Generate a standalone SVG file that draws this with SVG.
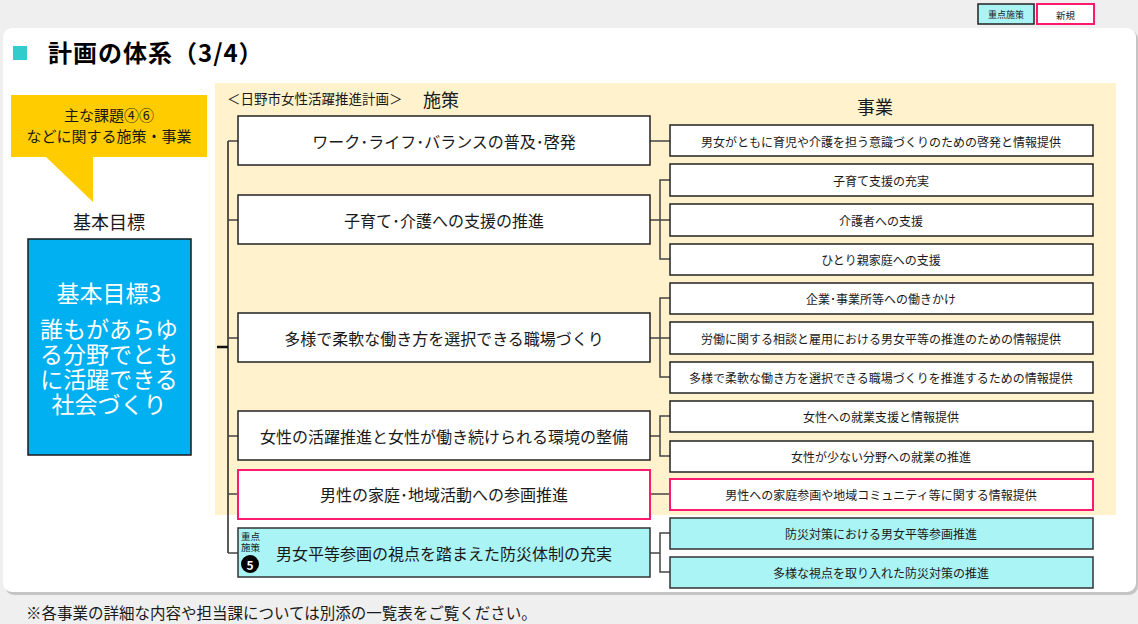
<svg xmlns="http://www.w3.org/2000/svg" width="1138" height="624" viewBox="0 0 1138 624">
<style>
text{font-family:"Meiryo UI","Noto Sans CJK JP","Noto Sans",sans-serif;fill:#1a1a1a}
.c{text-anchor:middle;dominant-baseline:central}
.pol{fill:#fff;stroke:#222;stroke-width:1.5}
.biz{fill:#fff;stroke:#222;stroke-width:1.5}
.cy{fill:#aaf4f6;stroke:#333;stroke-width:1.5}
.pk{fill:#fff;stroke:#ff1a70;stroke-width:2}
.pt{font-size:16px}
.bt{font-size:12px}
.ln{stroke:#444;stroke-width:1.5;fill:none}
</style>
<rect x="0" y="0" width="1138" height="624" fill="#efefef"/>
<rect x="5" y="30" width="1133" height="565" rx="9" fill="#c4c4c4"/>
<rect x="3" y="28" width="1133" height="564" rx="9" fill="#fff"/>

<g id="legend">
<rect x="978" y="4" width="56" height="20" fill="#aaf4f6" stroke="#222" stroke-width="1.5"/>
<text class="c" x="1006" y="14.5" style="font-size:9px">重点施策</text>
<rect x="1037" y="4" width="57" height="20" fill="#fff" stroke="#ff1a70" stroke-width="2"/>
<text class="c" x="1065.5" y="15" style="font-size:9.5px">新規</text>
</g>

<g id="title">
<rect x="13" y="46" width="14" height="14" fill="#33cccc"/>
<text x="48" y="62" style="font-size:24px;font-weight:bold;fill:#000;letter-spacing:1px">計画の体系（3/4）</text>
</g>

<g id="callout">
<rect x="11" y="95" width="196" height="62" fill="#ffcc00"/>
<polygon points="45,156 93,156 93,202" fill="#ffcc00"/>
<text x="109" y="121" text-anchor="middle" style="font-size:15px"><tspan x="109">主な課題④⑥</tspan><tspan x="109" dy="21">などに関する施策・事業</tspan></text>
</g>

<g id="goal">
<text class="c" x="109" y="221" style="font-size:18px">基本目標</text>
<rect x="28" y="239" width="163" height="216" fill="#00b0f0" stroke="#1a1a1a" stroke-width="1.5"/>
<text class="c" x="109" y="292" style="font-size:23px;fill:#fff">基本目標3</text>
<text x="109" y="338" text-anchor="middle" style="font-size:23px;fill:#fff"><tspan x="109">誰もがあらゆ</tspan><tspan x="109" dy="25">る分野でとも</tspan><tspan x="109" dy="25">に活躍できる</tspan><tspan x="109" dy="25">社会づくり</tspan></text>
</g>

<g id="panel">
<rect x="215" y="83" width="901" height="432" fill="#fff2cc"/>
<text x="227" y="104" style="font-size:13.5px">＜日野市女性活躍推進計画＞</text>
<text x="423" y="107" style="font-size:18px">施策</text>
<text class="c" x="875" y="106" style="font-size:18px">事業</text>
</g>

<g id="connectors">
<line x1="228" y1="141" x2="228" y2="553" stroke="#222" stroke-width="1.5"/>
<line x1="217" y1="347" x2="228" y2="347" stroke="#111" stroke-width="2.5"/>
<path class="ln" d="M228 141H238M228 220H238M228 338H238M228 436H238M228 494H238M228 553H238"/>
<path class="ln" d="M650 141H670"/>
<path class="ln" d="M650 220H660M670 180H660V259H670M660 220H670"/>
<path class="ln" d="M650 338H660M670 298H660V377H670M660 338H670"/>
<path class="ln" d="M650 436H660M670 416H660V456H670"/>
<path class="ln" d="M650 494H670"/>
<path class="ln" d="M650 553H660M670 533H660V572H670"/>
</g>

<g id="p1"><rect class="pol" x="238" y="116" width="412" height="49"/><text class="c pt" x="444" y="141">ワーク･ライフ･バランスの普及･啓発</text></g>
<g id="p2"><rect class="pol" x="238" y="195" width="412" height="49"/><text class="c pt" x="444" y="220">子育て･介護への支援の推進</text></g>
<g id="p3"><rect class="pol" x="238" y="313" width="412" height="49"/><text class="c pt" x="444" y="338">多様で柔軟な働き方を選択できる職場づくり</text></g>
<g id="p4"><rect class="pol" x="238" y="411" width="412" height="49"/><text class="c pt" x="444" y="436">女性の活躍推進と女性が働き続けられる環境の整備</text></g>
<g id="p5"><rect class="pk" x="238" y="470" width="412" height="49"/><text class="c pt" x="444" y="494">男性の家庭･地域活動への参画推進</text></g>
<g id="p6"><rect class="cy" x="238" y="528" width="412" height="49"/><text class="c pt" x="444" y="553">男女平等参画の視点を踏まえた防災体制の充実</text>
<text x="241" y="540" style="font-size:9.5px"><tspan x="241">重点</tspan><tspan x="241" dy="11">施策</tspan></text>
<circle cx="250" cy="564" r="9" fill="#000"/>
<text class="c" x="250" y="564.5" style="font-size:12px;font-weight:bold;fill:#fff">5</text>
</g>

<g id="b1"><rect class="biz" x="670" y="125" width="423" height="31"/><text class="c bt" x="881" y="141">男女がともに育児や介護を担う意識づくりのための啓発と情報提供</text></g>
<g id="b2"><rect class="biz" x="670" y="164" width="423" height="32"/><text class="c bt" x="881" y="180">子育て支援の充実</text></g>
<g id="b3"><rect class="biz" x="670" y="204" width="423" height="32"/><text class="c bt" x="881" y="220">介護者への支援</text></g>
<g id="b4"><rect class="biz" x="670" y="244" width="423" height="31"/><text class="c bt" x="881" y="259">ひとり親家庭への支援</text></g>
<g id="b5"><rect class="biz" x="670" y="283" width="423" height="31"/><text class="c bt" x="881" y="298">企業･事業所等への働きかけ</text></g>
<g id="b6"><rect class="biz" x="670" y="322" width="423" height="32"/><text class="c bt" x="881" y="338">労働に関する相談と雇用における男女平等の推進のための情報提供</text></g>
<g id="b7"><rect class="biz" x="670" y="362" width="423" height="31"/><text class="c bt" x="881" y="377">多様で柔軟な働き方を選択できる職場づくりを推進するための情報提供</text></g>
<g id="b8"><rect class="biz" x="670" y="401" width="423" height="31"/><text class="c bt" x="881" y="416">女性への就業支援と情報提供</text></g>
<g id="b9"><rect class="biz" x="670" y="441" width="423" height="31"/><text class="c bt" x="881" y="456">女性が少ない分野への就業の推進</text></g>
<g id="b10"><rect class="pk" x="670" y="479" width="423" height="31"/><text class="c bt" x="881" y="494">男性への家庭参画や地域コミュニティ等に関する情報提供</text></g>
<g id="b11"><rect class="cy" x="670" y="518" width="423" height="31"/><text class="c bt" x="881" y="533">防災対策における男女平等参画推進</text></g>
<g id="b12"><rect class="cy" x="670" y="557" width="423" height="31"/><text class="c bt" x="881" y="572">多様な視点を取り入れた防災対策の推進</text></g>

<text x="26" y="619" style="font-size:15.5px">※各事業の詳細な内容や担当課については別添の一覧表をご覧ください。</text>
</svg>
